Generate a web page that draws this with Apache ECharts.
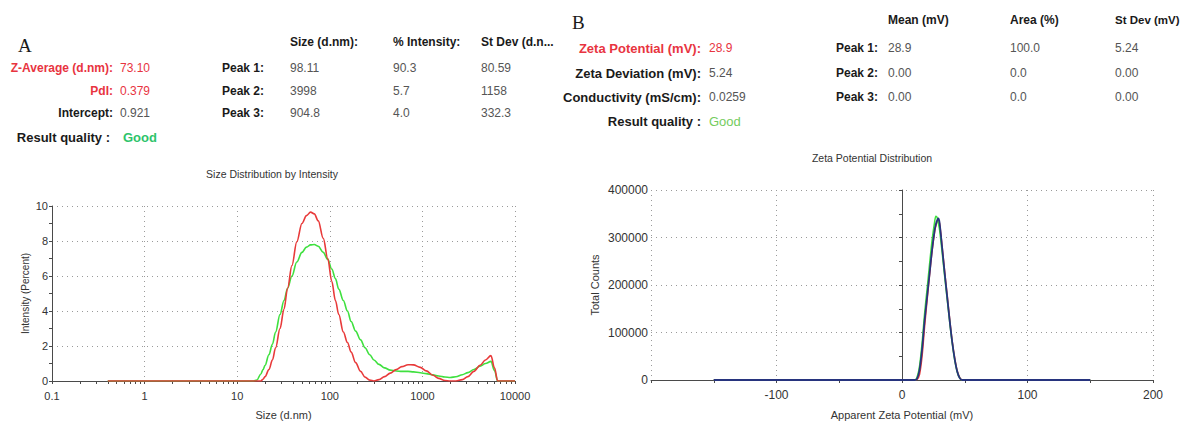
<!DOCTYPE html>
<html>
<head>
<meta charset="utf-8">
<title>DLS size and zeta potential report</title>
<script src="https://cdn.jsdelivr.net/npm/echarts@6/dist/echarts.min.js"></script>
<style>
  html, body { margin: 0; padding: 0; background: #fff; }
  #report { width: 1183px; height: 421px; }
</style>
</head>
<body>
<div id="report"></div>
<script>
// ---- Size distribution by intensity (two runs) ----
const sizeNm = [0.4, 15, 16.3, 18, 19, 20, 22, 24, 26, 29, 32, 35, 39, 44, 50, 56, 62, 68, 75, 85,
  95, 105, 115, 125, 140, 155, 170, 190, 215, 240, 270, 300, 340, 390, 450, 520, 600, 700, 800, 950,
  1100, 1300, 1500, 1750, 2000, 2300, 2700, 3100, 3600, 4200, 4800, 5500, 6000, 6500, 10000];
const intensityRed = [0, 0, 0, 0, 0.1, 0.25, 0.65, 1.2, 1.9, 3.0, 4.1, 5.3, 6.6, 7.95, 9.0, 9.45, 9.65, 9.55, 9.15, 8.15,
  7.0, 5.7, 4.6, 3.8, 2.8, 2.2, 1.65, 1.05, 0.55, 0.22, 0.05, 0, 0.08, 0.25, 0.45, 0.65, 0.82, 0.93, 0.92, 0.78,
  0.58, 0.33, 0.15, 0.03, 0, 0, 0.08, 0.25, 0.55, 0.9, 1.2, 1.45, 0.75, 0, 0];
const intensityGreen = [0, 0, 0.05, 0.4, 0.65, 0.9, 1.5, 2.1, 2.8, 3.8, 4.6, 5.3, 6.0, 6.8, 7.35, 7.65, 7.78, 7.8, 7.7, 7.35,
  6.95, 6.4, 5.85, 5.25, 4.6, 4.0, 3.4, 2.85, 2.35, 1.9, 1.5, 1.2, 0.95, 0.75, 0.62, 0.57, 0.55, 0.55, 0.52, 0.47,
  0.42, 0.35, 0.29, 0.23, 0.2, 0.24, 0.36, 0.48, 0.66, 0.85, 1.0, 1.12, 0.6, 0, 0];

// ---- Zeta potential distribution (three runs) ----
const zetaMv = [-150, 10, 12, 14, 16, 18, 20, 22, 24, 26, 27, 28, 29, 30, 32, 34, 36, 38, 40, 42, 44, 46, 48, 150];
const countsRed = [0, 0, 1000, 12000, 50000, 112000, 168000, 222000, 272000, 312000, 325000, 333000, 336000, 328000,
  280000, 228000, 178000, 128000, 82000, 46000, 19000, 5000, 0, 0];
const countsGreen = [0, 0, 6000, 30000, 78000, 140000, 192000, 245000, 295000, 333000, 345000, 342000, 330000, 315000,
  268000, 218000, 170000, 122000, 78000, 42000, 17000, 4000, 0, 0];
const countsBlue = [0, 0, 3000, 22000, 65000, 125000, 175000, 225000, 275000, 315000, 328000, 336000, 340000, 330000,
  278000, 225000, 175000, 125000, 80000, 44000, 18000, 4000, 0, 0];

// ---- Result tables ----
const sizeSummary = [
  ['Z-Average (d.nm):', '73.10', true],
  ['PdI:', '0.379', true],
  ['Intercept:', '0.921', false]
];
const sizePeakHeaders = ['Size (d.nm):', '% Intensity:', 'St Dev (d.n...'];
const sizePeaks = [
  ['Peak 1:', '98.11', '90.3', '80.59'],
  ['Peak 2:', '3998', '5.7', '1158'],
  ['Peak 3:', '904.8', '4.0', '332.3']
];
const zetaSummary = [
  ['Zeta Potential (mV):', '28.9', true],
  ['Zeta Deviation (mV):', '5.24', false],
  ['Conductivity (mS/cm):', '0.0259', false]
];
const zetaPeakHeaders = ['Mean (mV)', 'Area (%)', 'St Dev (mV)'];
const zetaPeaks = [
  ['Peak 1:', '28.9', '100.0', '5.24'],
  ['Peak 2:', '0.00', '0.0', '0.00'],
  ['Peak 3:', '0.00', '0.0', '0.00']
];

const FONT = '"Liberation Sans", Arial, sans-serif';
const SERIF = '"Liberation Serif", "DejaVu Serif", serif';
const RED = '#e8343f';
const LABEL = '#1a1a1a';
const VALUE = '#555555';

function txt(x, y, text, opts) {
  opts = opts || {};
  return {
    type: 'text', x: x, y: y, silent: true,
    style: {
      text: text,
      fill: opts.fill || LABEL,
      fontFamily: opts.family || FONT,
      fontSize: opts.size || 12,
      fontWeight: opts.bold ? 'bold' : 'normal',
      textAlign: opts.align || 'left',
      textVerticalAlign: 'middle'
    }
  };
}

const graphics = [];
// Panel A: size summary and peak table
graphics.push(txt(18, 45, 'A', { family: SERIF, size: 19 }));
const aRows = [68, 91, 113];
sizeSummary.forEach(function (r, i) {
  graphics.push(txt(113, aRows[i], r[0], { bold: true, align: 'right', fill: r[2] ? RED : LABEL }));
  graphics.push(txt(120, aRows[i], r[1], { fill: r[2] ? RED : VALUE }));
});
graphics.push(txt(110, 137, 'Result quality :', { bold: true, align: 'right', size: 13 }));
graphics.push(txt(123, 137, 'Good', { bold: true, size: 13, fill: '#2ec46b' }));
const aCols = [290, 393, 481];
sizePeakHeaders.forEach(function (h, j) { graphics.push(txt(aCols[j], 42, h, { bold: true })); });
sizePeaks.forEach(function (r, i) {
  graphics.push(txt(222, aRows[i], r[0], { bold: true }));
  for (let j = 0; j < 3; j++) graphics.push(txt(aCols[j], aRows[i], r[j + 1], { fill: VALUE }));
});

// Panel B: zeta summary and peak table
graphics.push(txt(572, 22, 'B', { family: SERIF, size: 19 }));
const bRows = [48, 73, 97];
zetaSummary.forEach(function (r, i) {
  graphics.push(txt(701, bRows[i], r[0], { bold: true, align: 'right', size: 13, fill: r[2] ? RED : LABEL }));
  graphics.push(txt(709, bRows[i], r[1], { fill: r[2] ? RED : VALUE }));
});
graphics.push(txt(701, 121, 'Result quality :', { bold: true, align: 'right', size: 13 }));
graphics.push(txt(709, 121, 'Good', { size: 13, fill: '#74cc5e' }));
const bCols = [888, 1010, 1115];
zetaPeakHeaders.forEach(function (h, j) { graphics.push(txt(bCols[j], 20, h, { bold: true, size: j === 2 ? 11.5 : 12 })); });
zetaPeaks.forEach(function (r, i) {
  graphics.push(txt(878, bRows[i], r[0], { bold: true, align: 'right' }));
  for (let j = 0; j < 3; j++) graphics.push(txt(bCols[j], bRows[i], r[j + 1], { fill: VALUE }));
});

// Chart titles
graphics.push(txt(272, 174, 'Size Distribution by Intensity', { size: 10.5, fill: '#333', align: 'center' }));
graphics.push(txt(872, 158, 'Zeta Potential Distribution', { size: 10.5, fill: '#333', align: 'center' }));

const axisLineStyle = { color: '#4a4a4a', width: 1 };
const gridLineStyle = { color: '#9a9a9a', type: [1, 4], width: 1 };

function pairs(xs, ys) { return xs.map(function (x, i) { return [x, ys[i]]; }); }
function plain(v) { return String(v); }

const chart = echarts.init(document.getElementById('report'), null, { renderer: 'svg' });
chart.setOption({
  animation: false,
  backgroundColor: '#ffffff',
  graphic: graphics,
  grid: [
    { left: 52, top: 206, width: 463, height: 180 },
    { left: 651, top: 190, width: 502, height: 193 }
  ],
  xAxis: [
    {
      gridIndex: 0, type: 'log', logBase: 10, min: 0.1, max: 10000,
      name: 'Size (d.nm)', nameLocation: 'middle', nameGap: 28,
      nameTextStyle: { fontFamily: FONT, fontSize: 11, color: '#333' },
      axisLine: { show: true, onZero: false, lineStyle: axisLineStyle },
      axisTick: { show: true, length: 3, lineStyle: axisLineStyle },
      minorTick: { show: true, splitNumber: 9, length: 3, lineStyle: axisLineStyle },
      axisLabel: { fontFamily: FONT, fontSize: 11, color: '#333', margin: 9, formatter: plain },
      splitLine: { show: true, lineStyle: gridLineStyle }
    },
    {
      gridIndex: 1, type: 'value', min: -200, max: 200, interval: 100,
      name: 'Apparent Zeta Potential (mV)', nameLocation: 'middle', nameGap: 29,
      nameTextStyle: { fontFamily: FONT, fontSize: 11, color: '#333' },
      axisLine: { show: true, onZero: false, lineStyle: axisLineStyle },
      axisTick: { show: true, length: 3, lineStyle: axisLineStyle },
      minorTick: { show: true, splitNumber: 2, length: 3, lineStyle: axisLineStyle },
      axisLabel: {
        fontFamily: FONT, fontSize: 12, color: '#333', margin: 9,
        formatter: function (v) { return v === -200 ? '' : String(v); }
      },
      splitLine: { show: true, lineStyle: gridLineStyle }
    }
  ],
  yAxis: [
    {
      gridIndex: 0, type: 'value', min: 0, max: 10, interval: 2,
      name: 'Intensity (Percent)', nameLocation: 'middle', nameGap: 22,
      nameTextStyle: { fontFamily: FONT, fontSize: 10, color: '#333' },
      axisLine: { show: true, lineStyle: axisLineStyle },
      axisTick: { show: true, length: 3, lineStyle: axisLineStyle },
      minorTick: { show: true, splitNumber: 2, length: 3, lineStyle: axisLineStyle },
      axisLabel: { fontFamily: FONT, fontSize: 11, color: '#333', margin: 4 },
      splitLine: { show: true, lineStyle: gridLineStyle }
    },
    {
      gridIndex: 1, type: 'value', min: 0, max: 400000, interval: 100000,
      name: 'Total Counts', nameLocation: 'middle', nameGap: 51,
      nameTextStyle: { fontFamily: FONT, fontSize: 11, color: '#333' },
      axisLine: { show: true, lineStyle: axisLineStyle },
      axisTick: { show: true, length: 3, lineStyle: axisLineStyle },
      minorTick: { show: true, splitNumber: 2, length: 3, lineStyle: axisLineStyle },
      axisLabel: { fontFamily: FONT, fontSize: 12, color: '#333', margin: 3, formatter: plain },
      splitLine: { show: true, lineStyle: gridLineStyle }
    }
  ],
  series: [
    {
      name: 'Record 1', type: 'line', xAxisIndex: 0, yAxisIndex: 0,
      data: pairs(sizeNm, intensityGreen), showSymbol: false, smooth: 0.35, smoothMonotone: 'x',
      lineStyle: { color: '#3fe03f', width: 1.6 }, z: 3
    },
    {
      name: 'Record 2', type: 'line', xAxisIndex: 0, yAxisIndex: 0,
      data: pairs(sizeNm, intensityRed), showSymbol: false, smooth: 0.35, smoothMonotone: 'x',
      lineStyle: { color: '#e83a3a', width: 1.6 }, z: 4
    },
    {
      name: 'Zeta 1', type: 'line', xAxisIndex: 1, yAxisIndex: 1,
      data: pairs(zetaMv, countsRed), showSymbol: false, smooth: 0.3,
      lineStyle: { color: '#e83a3a', width: 1.5 }, z: 3
    },
    {
      name: 'Zeta 2', type: 'line', xAxisIndex: 1, yAxisIndex: 1,
      data: pairs(zetaMv, countsGreen), showSymbol: false, smooth: 0.3,
      lineStyle: { color: '#3fe03f', width: 1.5 }, z: 4
    },
    {
      name: 'Zeta 3', type: 'line', xAxisIndex: 1, yAxisIndex: 1,
      data: pairs(zetaMv, countsBlue), showSymbol: false, smooth: 0.3,
      lineStyle: { color: '#27347e', width: 1.8 }, z: 5
    }
  ]
});
</script>
</body>
</html>
